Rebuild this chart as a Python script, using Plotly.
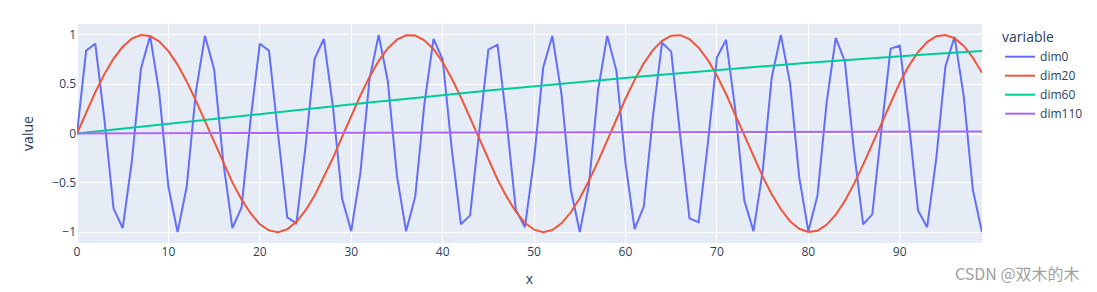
import plotly.graph_objects as go

x = list(range(100))

dim0 = [0.00, 0.84, 0.91, 0.14, -0.76, -0.96, -0.28, 0.66, 0.99, 0.41,
        -0.54, -1.00, -0.54, 0.42, 0.99, 0.65, -0.29, -0.96, -0.75, 0.15,
        0.91, 0.84, -0.01, -0.85, -0.91, -0.13, 0.76, 0.96, 0.27, -0.66,
        -0.99, -0.40, 0.55, 1.00, 0.53, -0.43, -0.99, -0.64, 0.30, 0.96,
        0.75, -0.16, -0.92, -0.83, 0.02, 0.85, 0.90, 0.12, -0.77, -0.95,
        -0.26, 0.67, 0.99, 0.40, -0.56, -1.00, -0.52, 0.44, 0.99, 0.64,
        -0.30, -0.97, -0.74, 0.17, 0.92, 0.83, -0.03, -0.86, -0.90, -0.11,
        0.77, 0.95, 0.25, -0.68, -0.99, -0.39, 0.57, 1.00, 0.51, -0.44,
        -0.99, -0.63, 0.31, 0.97, 0.73, -0.18, -0.92, -0.82, 0.04, 0.86,
        0.89, 0.11, -0.78, -0.95, -0.25, 0.68, 0.98, 0.38, -0.57, -1.00]

dim20 = [0.000, 0.214, 0.418, 0.602, 0.759, 0.880, 0.962, 0.998, 0.988, 0.933,
         0.835, 0.698, 0.528, 0.334, 0.125, -0.090, -0.301, -0.496, -0.668, -0.811,
         -0.920, -0.982, -1.000, -0.971, -0.896, -0.780, -0.628, -0.446, -0.248, -0.035,
         0.179, 0.385, 0.574, 0.736, 0.863, 0.951, 0.995, 0.993, 0.945, 0.854,
         0.723, 0.558, 0.367, 0.160, -0.055, -0.267, -0.466, -0.642, -0.791, -0.905,
         -0.975, -1.000, -0.978, -0.911, -0.801, -0.656, -0.479, -0.282, -0.071, 0.144,
         0.352, 0.544, 0.711, 0.845, 0.940, 0.991, 0.997, 0.956, 0.871, 0.747,
         0.587, 0.400, 0.195, -0.019, -0.232, -0.435, -0.615, -0.768, -0.889, -0.966,
         -0.999, -0.985, -0.926, -0.823, -0.683, -0.511, -0.316, -0.106, 0.109, 0.319,
         0.514, 0.686, 0.826, 0.927, 0.986, 0.999, 0.966, 0.888, 0.769, 0.615]

dim60 = [0.000, 0.010, 0.020, 0.030, 0.040, 0.050, 0.060, 0.070, 0.080, 0.090,
         0.100, 0.110, 0.120, 0.130, 0.140, 0.149, 0.159, 0.169, 0.179, 0.189,
         0.199, 0.208, 0.218, 0.228, 0.238, 0.247, 0.257, 0.267, 0.276, 0.286,
         0.296, 0.305, 0.315, 0.324, 0.333, 0.343, 0.352, 0.362, 0.371, 0.380,
         0.389, 0.399, 0.408, 0.417, 0.426, 0.435, 0.444, 0.453, 0.462, 0.471,
         0.479, 0.488, 0.497, 0.506, 0.514, 0.523, 0.531, 0.540, 0.548, 0.556,
         0.565, 0.573, 0.581, 0.589, 0.597, 0.605, 0.613, 0.621, 0.629, 0.637,
         0.644, 0.652, 0.659, 0.667, 0.674, 0.682, 0.689, 0.696, 0.703, 0.710,
         0.717, 0.724, 0.731, 0.738, 0.745, 0.751, 0.758, 0.764, 0.771, 0.777,
         0.783, 0.789, 0.796, 0.802, 0.808, 0.813, 0.819, 0.825, 0.830, 0.836]

dim110 = [0.0000, 0.0002, 0.0004, 0.0006, 0.0009, 0.0011, 0.0013, 0.0015, 0.0017, 0.0019,
          0.0022, 0.0024, 0.0026, 0.0028, 0.0030, 0.0032, 0.0034, 0.0037, 0.0039, 0.0041,
          0.0043, 0.0045, 0.0047, 0.0050, 0.0052, 0.0054, 0.0056, 0.0058, 0.0060, 0.0062,
          0.0065, 0.0067, 0.0069, 0.0071, 0.0073, 0.0075, 0.0078, 0.0080, 0.0082, 0.0084,
          0.0086, 0.0088, 0.0090, 0.0093, 0.0095, 0.0097, 0.0099, 0.0101, 0.0103, 0.0106,
          0.0108, 0.0110, 0.0112, 0.0114, 0.0116, 0.0118, 0.0121, 0.0123, 0.0125, 0.0127,
          0.0129, 0.0131, 0.0134, 0.0136, 0.0138, 0.0140, 0.0142, 0.0144, 0.0146, 0.0149,
          0.0151, 0.0153, 0.0155, 0.0157, 0.0159, 0.0162, 0.0164, 0.0166, 0.0168, 0.0170,
          0.0172, 0.0175, 0.0177, 0.0179, 0.0181, 0.0183, 0.0185, 0.0187, 0.0190, 0.0192,
          0.0194, 0.0196, 0.0198, 0.0200, 0.0203, 0.0205, 0.0207, 0.0209, 0.0211, 0.0213]

series = [("dim0", dim0, "#636efa"), ("dim20", dim20, "#EF553B"),
          ("dim60", dim60, "#00cc96"), ("dim110", dim110, "#ab63fa")]

fig = go.Figure()
for name, vals, color in series:
    fig.add_trace(go.Scatter(x=x, y=vals, mode="lines", name=name,
                             line=dict(color=color, width=2)))

fig.update_layout(
    template="plotly",
    width=1097, height=292,
    margin=dict(l=77, r=115, t=24, b=49, autoexpand=False),
    legend=dict(title=dict(text="variable"), tracegroupgap=0),
    xaxis=dict(title=dict(text="x", standoff=15), range=[0, 99], zeroline=True,
               automargin=False),
    yaxis=dict(title=dict(text="value"), tickvals=[-1, -0.5, 0, 0.5, 1],
               ticktext=["−1", "−0.5", "0", "0.5", "1"], range=[-1.11, 1.11],
               automargin=False),
    annotations=[dict(text="CSDN @双木的木", xref="paper", yref="paper",
                      x=1.1105, y=-0.137, xanchor="right", yanchor="middle",
                      showarrow=False,
                      font=dict(family="Noto Sans CJK SC", size=16, color="#a0a0a0"))],
)

fig.write_html("out.html")
